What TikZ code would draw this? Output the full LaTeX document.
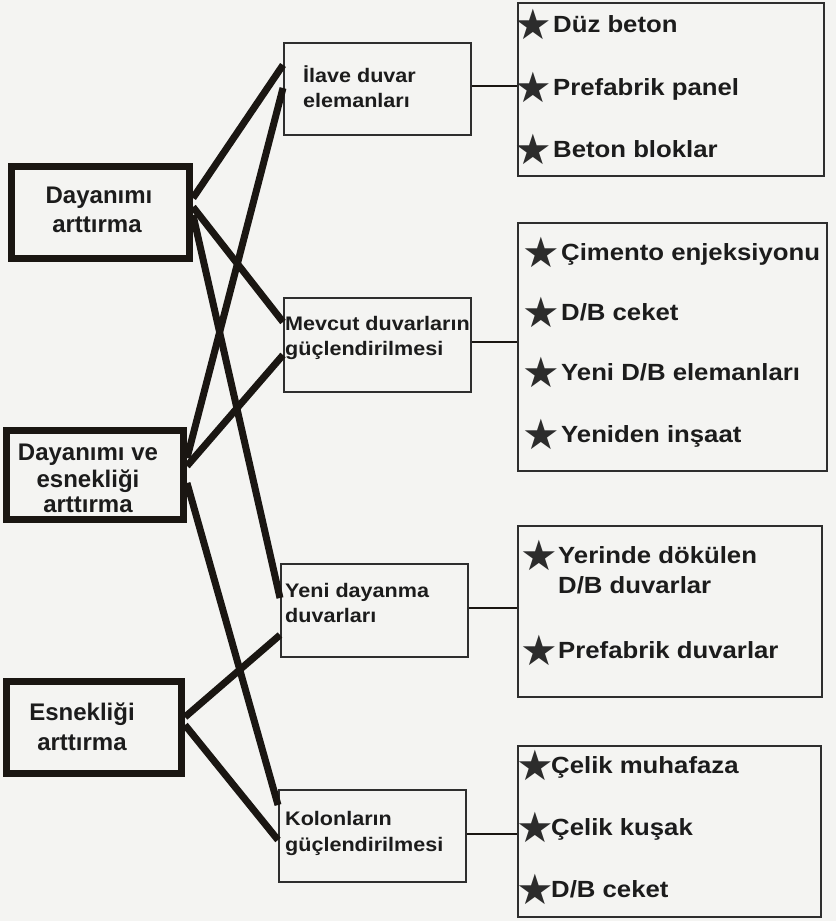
\documentclass[tikz,border=0pt]{standalone}
\usepackage{fontspec}
\setmainfont{Liberation Sans}
\newfontfamily\widefont{Liberation Sans}[FakeStretch=1.1]
\newfontfamily\starfont{DejaVu Sans}
\definecolor{ink}{HTML}{1A1612}
\definecolor{boxc}{HTML}{2E2E2E}
\definecolor{txt}{HTML}{1C1C1C}
\definecolor{starc}{HTML}{2C2C2C}
\definecolor{paper}{HTML}{F4F4F2}
\begin{document}
\begin{tikzpicture}[x=1pt,y=-1pt,
  leftbox/.style={draw=ink, line width=7pt, fill=paper, inner sep=0pt},
  midbox/.style={draw=boxc, line width=2pt, fill=paper, inner sep=0pt},
  link/.style={draw=ink, line width=7pt},
  thinlink/.style={draw=ink, line width=2pt},
  lt/.style={font=\fontsize{24}{28}\selectfont\bfseries, text=txt, inner sep=0pt, anchor=base},
  mt/.style={font=\widefont\fontsize{19.6}{24}\selectfont\bfseries, text=txt, inner sep=0pt, anchor=base west},
  rt/.style={font=\widefont\fontsize{23.4}{28}\selectfont\bfseries, text=txt, inner sep=0pt, anchor=base west},
  st/.style={font=\starfont\fontsize{42}{42}\selectfont, text=starc, inner sep=0pt, anchor=center}]
\fill[paper] (0,0) rectangle (836,921);
\useasboundingbox (0,0) rectangle (836,921);

% left boxes
\node[leftbox, minimum width=178pt, minimum height=92pt] (DA) at (100.5,212.5) {};
\node[leftbox, minimum width=177pt, minimum height=89pt] (DE) at (95,475) {};
\node[leftbox, minimum width=175pt, minimum height=92pt] (ES) at (94,727.5) {};

% middle boxes
\node[midbox, minimum width=187pt, minimum height=92pt] (M1) at (377.5,89) {};
\node[midbox, minimum width=187pt, minimum height=94pt] (M2) at (377.5,345) {};
\node[midbox, minimum width=187pt, minimum height=93pt] (M3) at (374.5,610.5) {};
\node[midbox, minimum width=187pt, minimum height=92pt] (M4) at (372.5,836) {};

% right boxes
\node[midbox, minimum width=306pt, minimum height=173pt] (R1) at (671,89.5) {};
\node[midbox, minimum width=309pt, minimum height=248pt] (R2) at (672.5,347) {};
\node[midbox, minimum width=304pt, minimum height=171pt] (R3) at (670,611.5) {};
\node[midbox, minimum width=303pt, minimum height=171pt] (R4) at (669.5,831.5) {};

% thick links
\draw[link] ([yshift=14.5pt]DA.east) -- ([yshift=24pt]M1.west);
\draw[link] ([yshift=5.5pt]DA.east) -- ([yshift=23pt]M2.west);
\draw[link] ([yshift=-2.5pt]DA.east) -- ([yshift=12.5pt]M3.west);
\draw[link] ([yshift=17pt]DE.east) -- ([yshift=1pt]M1.west);
\draw[link] ([yshift=9pt]DE.east) -- ([yshift=-10pt]M2.west);
\draw[link] ([yshift=-8pt]DE.east) -- ([yshift=31pt]M4.west);
\draw[link] ([yshift=10.5pt]ES.east) -- ([yshift=-24.5pt]M3.west);
\draw[link] ([yshift=2.5pt]ES.east) -- ([yshift=-4pt]M4.west);

% thin links
\draw[thinlink] ([yshift=3pt]M1.east) -- ([yshift=3.5pt]R1.west);
\draw[thinlink] ([yshift=3pt]M2.east) -- ([yshift=5pt]R2.west);
\draw[thinlink] ([yshift=2.5pt]M3.east) -- ([yshift=3.5pt]R3.west);
\draw[thinlink] ([yshift=2pt]M4.east) -- ([yshift=-2.5pt]R4.west);

% left texts
\node[lt] (da1) at (99,203) {Dayanımı};
\node[lt] (da2) at (97,232) {arttırma};
\node[lt] (de1) at (88,460) {Dayanımı ve};
\node[lt] (de2) at (88,487) {esnekliği};
\node[lt] (de3) at (88,512) {arttırma};
\node[lt] (es1) at (82,720) {Esnekliği};
\node[lt] (es2) at (82,750) {arttırma};

% middle texts
\node[mt] (m1a) at (303,82) {İlave duvar};
\node[mt] (m1b) at (303,107) {elemanları};
\node[mt] (m2a) at (285,330) {Mevcut duvarların};
\node[mt] (m2b) at (285,355) {güçlendirilmesi};
\node[mt] (m3a) at (285,597) {Yeni dayanma};
\node[mt] (m3b) at (285,622) {duvarları};
\node[mt] (m4a) at (285,825) {Kolonların};
\node[mt] (m4b) at (285,851) {güçlendirilmesi};

% right box 1
\node[st] (s11) at (533,24) {★};
\node[rt] (r11) at (553,32) {Düz beton};
\node[st] (s12) at (533,87) {★};
\node[rt] (r12) at (553,95) {Prefabrik panel};
\node[st] (s13) at (533,149) {★};
\node[rt] (r13) at (553,157) {Beton bloklar};

% right box 2
\node[st] (s21) at (541,252) {★};
\node[rt] (r21) at (561,260) {Çimento enjeksiyonu};
\node[st] (s22) at (541,312) {★};
\node[rt] (r22) at (561,320) {D/B ceket};
\node[st] (s23) at (541,372) {★};
\node[rt] (r23) at (561,380) {Yeni D/B elemanları};
\node[st] (s24) at (541,434) {★};
\node[rt] (r24) at (561,442) {Yeniden inşaat};

% right box 3
\node[st] (s31) at (539,555) {★};
\node[rt] (r31) at (558,563) {Yerinde dökülen};
\node[rt] (r32) at (558,593) {D/B duvarlar};
\node[st] (s33) at (539,650) {★};
\node[rt] (r33) at (558,658) {Prefabrik duvarlar};

% right box 4
\node[st] (s41) at (535,765) {★};
\node[rt] (r41) at (551,773) {Çelik muhafaza};
\node[st] (s42) at (535,827) {★};
\node[rt] (r42) at (551,835) {Çelik kuşak};
\node[st] (s43) at (535,889) {★};
\node[rt] (r43) at (551,897) {D/B ceket};
\end{tikzpicture}
\end{document}
